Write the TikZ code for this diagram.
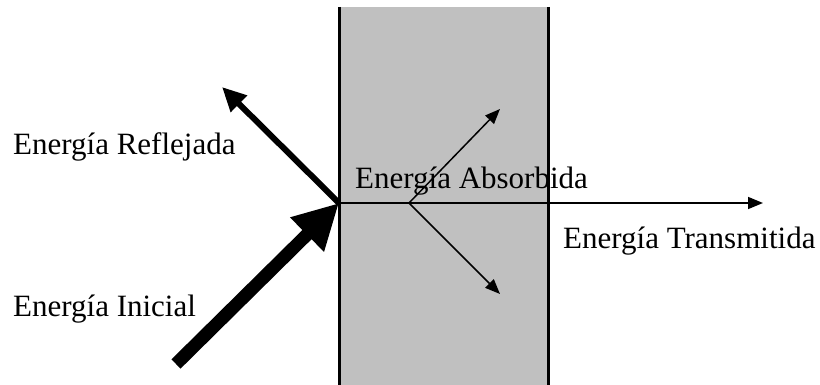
\documentclass[tikz,border=0pt]{standalone}
\usepackage{fontspec}
\setmainfont{Liberation Serif}
\usetikzlibrary{arrows.meta}
\definecolor{slab}{HTML}{C0C0C0}
\tikzset{
  lbl/.style={anchor=base west, inner sep=0pt, font=\fontsize{31}{36}\selectfont, text=black},
  thinarrow/.style={line width=1.5pt, -{Triangle[length=15pt,width=12pt]}},
  reflarrow/.style={line width=6pt, -{Triangle[length=24pt,width=22pt]}},
  incarrow/.style={line width=13pt, -{Triangle[length=45pt,width=45pt]}},
}
\begin{document}
\begin{tikzpicture}[x=1pt,y=-1pt]
\useasboundingbox (0,0) rectangle (820,385);
\fill[white] (0,0) rectangle (820,385);
% slab
\fill[slab] (339,7) rectangle (548,385);
\draw[line width=3pt] (339,7) -- (339,385);
\draw[line width=3pt] (548,7) -- (548,385);
% points
\coordinate (O) at (339,203);
\coordinate (A) at (409,203);
\coordinate (T) at (763,203);
\coordinate (R) at (222,87);
\coordinate (I) at (176,364);
\coordinate (U) at (500,109);
\coordinate (D) at (500,294);
% arrows
\draw[thinarrow] (O) -- (T);
\draw[thinarrow] (A) -- (U);
\draw[thinarrow] (A) -- (D);
\draw[reflarrow] (O) -- (R);
\draw[incarrow] (I) -- (O);
% labels
\node[lbl] (lr) at (13,155) {Energía Reflejada};
\node[lbl] (la) at (355,189) {Energía Absorbida};
\node[lbl] (lt) at (563,248) {Energía Transmitida};
\node[lbl] (li) at (13,316) {Energía Inicial};
\end{tikzpicture}
\end{document}
